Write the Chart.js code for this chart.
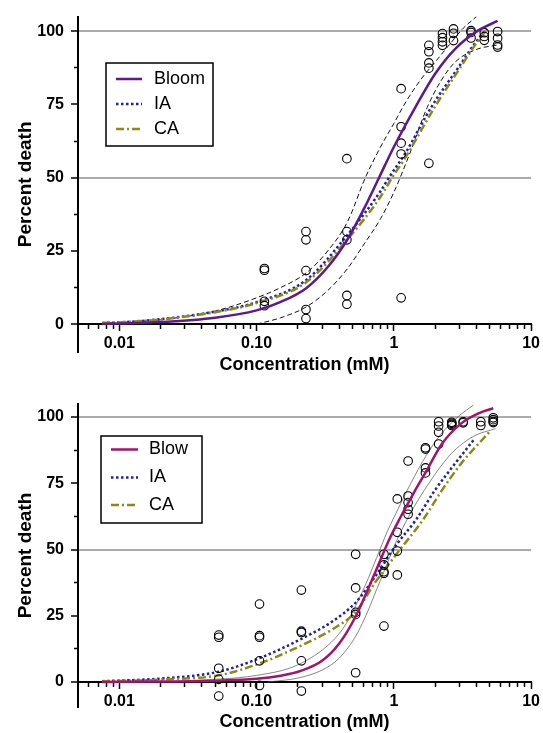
<!DOCTYPE html>
<html>
<head>
<meta charset="utf-8">
<script src="https://cdn.jsdelivr.net/npm/chart.js@4.4.1/dist/chart.umd.min.js"></script>
<style>
	html, body { margin: 0; padding: 0; background: #fff; }
	#wrap { position: relative; width: 543px; height: 733px; overflow: hidden; }
	#top { position: absolute; left: 0; top: 0; }
	#bottom { position: absolute; left: 0; top: 378px; }
</style>
</head>
<body>
<div id="wrap">
	<canvas id="top" width="543" height="378"></canvas>
	<canvas id="bottom" width="543" height="355"></canvas>
</div>
<script>
// ticks
var majorTicks = [0.01, 0.1, 1, 10];
var majorLabels = ["0.01", "0.10", "1", "10"];
var minorTicks = [0.006, 0.007, 0.008, 0.009, 0.02, 0.03, 0.04, 0.05, 0.06, 0.07, 0.08, 0.09,
	0.2, 0.3, 0.4, 0.5, 0.6, 0.7, 0.8, 0.9, 2, 3, 4, 5, 6, 7, 8, 9];
var yTicks = [0, 25, 50, 75, 100];
var yMinorTicks = [12.5, 37.5, 62.5, 87.5];

//////// top : Bloom
var bloomPtX = [0.114, 0.114, 0.114, 0.114, 0.229, 0.229, 0.229, 0.229, 0.229,
	0.455, 0.455, 0.455, 0.455, 0.455, 1.13, 1.13, 1.13, 1.13, 1.13,
	1.8, 1.8, 1.8, 1.8, 1.8, 2.26, 2.26, 2.26, 2.26, 2.72, 2.72, 2.72,
	3.65, 3.65, 3.65, 4.56, 4.56, 4.56, 5.7, 5.7, 5.7, 5.7];
var bloomPtY = [19.0, 18.4, 7.8, 6.3, 31.6, 28.8, 18.3, 5.0, 1.9,
	56.5, 31.6, 28.8, 9.8, 6.8, 80.4, 67.4, 61.8, 58.1, 9.0,
	95.2, 93.0, 89.2, 87.4, 54.9, 99.2, 97.8, 96.4, 95.2, 100.8, 99.3, 96.8,
	100.2, 99.6, 97.7, 99.5, 98.2, 96.9, 99.9, 97.6, 95.3, 94.6];
var bloomFitX = [0.0075, 0.01, 0.02, 0.05, 0.1, 0.15, 0.23, 0.33, 0.46, 0.6, 0.78, 1.0, 1.44, 2.0, 2.8, 4.1, 5.7];
var bloomFitY = [0.1, 0.2, 0.7, 2.2, 4.7, 7.6, 12.3, 19.5, 29, 39, 50, 60.5, 74.2, 85.5, 94, 100.2, 103.5];
var bloomHiX = [0.0075, 0.02, 0.05, 0.1, 0.15, 0.23, 0.33, 0.46, 0.62, 0.8, 1.0, 1.21, 1.6, 2.0, 2.6, 3.2, 4.0];
var bloomHiY = [0.3, 1.5, 4.5, 9.0, 12.5, 17.5, 25, 35, 50, 60.5, 68.5, 75.5, 84, 89.5, 96, 101, 105];
var bloomLoX = [0.1, 0.15, 0.23, 0.33, 0.46, 0.6, 0.8, 1.0, 1.3, 1.75, 2.2, 2.8, 4.0, 5.7];
var bloomLoY = [0, 2.2, 5.9, 11.5, 19, 27, 36, 45, 58, 74, 83, 89.5, 93.8, 95.3];
var bloomIAX = [0.0075, 0.01, 0.02, 0.05, 0.1, 0.23, 0.46, 0.8, 0.92, 1.2, 1.88, 2.97, 3.87, 4.73];
var bloomIAY = [0.4, 0.6, 1.7, 4.3, 7.5, 15.1, 30.5, 45.4, 50, 58, 74.2, 87.8, 95.7, 100.8];
var bloomCAX = [0.0075, 0.01, 0.02, 0.05, 0.1, 0.23, 0.46, 0.8, 0.97, 1.2, 1.99, 2.97, 3.87, 4.73];
var bloomCAY = [0.4, 0.6, 1.6, 4.1, 7.2, 14.3, 29, 43.5, 50, 56.5, 74.2, 86.8, 95, 100.5];

//////// bottom : Blow
var blowPtX = [0.053, 0.053, 0.053, 0.053, 0.053, 0.105, 0.105, 0.105, 0.105, 0.105,
	0.212, 0.212, 0.212, 0.212, 0.212, 0.527, 0.527, 0.527, 0.527, 0.527,
	0.847, 0.847, 0.847, 0.847, 0.847, 1.06, 1.06, 1.06, 1.06,
	1.27, 1.27, 1.27, 1.27, 1.27, 1.7, 1.7, 1.7, 1.7, 2.12, 2.12, 2.12, 2.12,
	2.64, 2.64, 2.64, 2.64, 3.2, 3.2, 4.3, 4.3, 5.3, 5.3, 5.3, 5.3];
var blowPtY = [17.7, 16.9, 5.2, 1.0, -5.3, 29.4, 17.5, 16.9, 8.0, -1.3,
	34.7, 19.2, 18.7, 8.0, -3.4, 48.2, 35.5, 26.3, 25.5, 3.5,
	48.2, 44.2, 41.6, 41.0, 21.1, 69.1, 56.5, 49.4, 40.4,
	83.4, 70.2, 67.7, 65.2, 63.3, 88.4, 87.9, 80.8, 78.9, 98.2, 96.6, 94.2, 89.8,
	98.0, 97.6, 97.2, 96.8, 98.2, 97.8, 98.2, 96.8, 99.7, 99.0, 98.3, 97.9];
var blowFitX = [0.0075, 0.02, 0.05, 0.1, 0.15, 0.21, 0.3, 0.4, 0.53, 0.74, 0.92, 1.1, 1.4, 1.7, 2.25, 3.1, 4.15, 5.3];
var blowFitY = [0.05, 0.2, 0.5, 1.2, 2.4, 4.2, 8, 14.5, 25, 42, 53.5, 61.5, 71.5, 79, 90, 97.6, 101.4, 103.3];
var blowHiX = [0.03, 0.1, 0.2, 0.35, 0.45, 0.53, 0.65, 0.75, 0.9, 1.0, 1.33, 1.7, 2.2, 3.0, 3.8];
var blowHiY = [0.4, 2.5, 6.5, 15, 22, 29, 39, 47, 57, 62, 75, 85, 93.5, 100.5, 104.5];
var blowLoX = [0.12, 0.2, 0.3, 0.4, 0.53, 0.65, 0.75, 0.9, 1.0, 1.3, 1.8, 2.5, 3.0, 3.9, 5.5];
var blowLoY = [0, 1.5, 4.5, 9, 17.5, 27, 35, 45, 51, 63, 75, 85, 89, 93, 95.6];
var blowIAX = [0.0075, 0.02, 0.053, 0.105, 0.216, 0.36, 0.527, 0.736, 1.05, 1.44, 2.0, 2.8, 3.9];
var blowIAY = [0.3, 1.3, 3.9, 9, 16.5, 23, 30, 40, 52, 61, 72.5, 82.5, 92];
var blowCAX = [0.0075, 0.02, 0.054, 0.105, 0.216, 0.36, 0.527, 0.736, 1.11, 1.62, 2.25, 3.1, 5.1];
var blowCAY = [0.2, 0.9, 2.6, 7, 14, 20, 26.5, 37.8, 50, 61, 72.5, 82.5, 95];

Chart.defaults.font.family = '"Liberation Sans", Arial, sans-serif';
Chart.defaults.color = "#000";

function xy(xs, ys) {
	return xs.map(function(x, i) { return {x: x, y: ys[i]}; });
}
function curve(label, xs, ys, color, width, dash, order) {
	return {
		label: label, data: xy(xs, ys), showLine: true, pointRadius: 0,
		borderColor: color, borderWidth: width, borderDash: dash,
		cubicInterpolationMode: "monotone", fill: false, order: order
	};
}
function dots(xs, ys) {
	return {
		label: "data", data: xy(xs, ys), showLine: false, pointRadius: 4.3,
		pointStyle: "circle", borderColor: "#000", borderWidth: 1.1,
		backgroundColor: "rgba(0,0,0,0)", order: 1
	};
}

// legend box inside the plot
var boxLegend = {
	id: "boxLegend",
	afterDatasetsDraw: function(chart, args, o) {
		var ctx = chart.ctx;
		ctx.save();
		ctx.fillStyle = "#fff";
		ctx.fillRect(o.x, o.y, o.w, o.h);
		ctx.strokeStyle = "#000";
		ctx.lineWidth = 1.5;
		ctx.strokeRect(o.x, o.y, o.w, o.h);
		o.items.forEach(function(idx, i) {
			var ds = chart.data.datasets[idx];
			var y = o.rows[i];
			ctx.strokeStyle = ds.borderColor;
			ctx.lineWidth = ds.borderWidth;
			ctx.setLineDash(ds.borderDash || []);
			ctx.beginPath();
			ctx.moveTo(o.lx0, y);
			ctx.lineTo(o.lx1, y);
			ctx.stroke();
			ctx.setLineDash([]);
			ctx.fillStyle = "#000";
			ctx.font = '18px "Liberation Sans", Arial, sans-serif';
			ctx.textBaseline = "middle";
			ctx.fillText(ds.label, o.tx, y);
		});
		ctx.restore();
	}
};

function panel(id, sets, legend, pad, titlePad) {
	var logRange = {type: "logarithmic", min: 0.005, max: 10, bounds: "data"};
	var yRange = {type: "linear", min: -9.5, max: 105, bounds: "data"};
	return new Chart(document.getElementById(id), {
		type: "scatter",
		data: {datasets: sets},
		options: {
			responsive: false,
			animation: false,
			layout: {padding: pad},
			plugins: {legend: {display: false}, tooltip: {enabled: false}, boxLegend: legend},
			scales: {
				x: Object.assign({}, logRange, {
					axis: "x", position: {y: 0},
					border: {color: "#000", width: 2},
					grid: {drawOnChartArea: false, tickLength: 4, tickColor: "#000", tickWidth: 1.5},
					ticks: {display: false},
					afterBuildTicks: function(s) { s.ticks = minorTicks.map(function(v) { return {value: v}; }); },
					afterFit: function(s) { s.height = 0; }
				}),
				y: Object.assign({}, yRange, {
					axis: "y", position: "left",
					border: {color: "#000", width: 2},
					grid: {
						color: function(c) { return (c.tick && (c.tick.value === 50 || c.tick.value === 100)) ? "#ababab" : "rgba(0,0,0,0)"; },
						lineWidth: 2, tickColor: "#000", tickWidth: 1.5, tickLength: 7
					},
					ticks: {color: "#000", font: {size: 16, weight: "bold"}, padding: 7},
					afterBuildTicks: function(s) { s.ticks = yTicks.map(function(v) { return {value: v}; }); },
					afterFit: function(s) { s.width = 78; },
					title: {display: true, text: "Percent death", color: "#000", font: {size: 19, weight: "bold"}, padding: {top: 14, bottom: 0}}
				}),
				xMajor: Object.assign({}, logRange, {
					axis: "x", position: {y: 0},
					border: {display: false},
					grid: {drawOnChartArea: false, tickLength: 7, tickColor: "#000", tickWidth: 1.5},
					ticks: {
						color: "#000", font: {size: 16, weight: "bold"}, padding: 3, maxRotation: 0, autoSkip: false,
						callback: function(v, i) { return majorLabels[i]; }
					},
					afterBuildTicks: function(s) { s.ticks = majorTicks.map(function(v) { return {value: v}; }); },
					afterFit: function(s) { s.height = 0; }
				}),
				yMinor: Object.assign({}, yRange, {
					axis: "y", position: {x: 0.005},
					border: {display: false},
					grid: {drawOnChartArea: false, tickLength: 4, tickColor: "#000", tickWidth: 1.5},
					ticks: {display: false},
					afterBuildTicks: function(s) { s.ticks = yMinorTicks.map(function(v) { return {value: v}; }); },
					afterFit: function(s) { s.width = 0; }
				}),
				xTitle: Object.assign({}, logRange, {
					axis: "x", position: "bottom",
					border: {display: false},
					grid: {display: false, drawTicks: false},
					ticks: {display: false},
					title: {display: true, text: "Concentration (mM)", color: "#000", font: {size: 18, weight: "bold"}, padding: titlePad}
				})
			}
		},
		plugins: [boxLegend]
	});
}

// top
panel("top", [
	curve("Bloom", bloomFitX, bloomFitY, "#5c1a8e", 2.5, [], 0),
	curve("IA", bloomIAX, bloomIAY, "#1f22a8", 2.5, [2.5, 2.5], 3),
	curve("CA", bloomCAX, bloomCAY, "#8c8a14", 2.5, [8, 3, 2, 3], 2),
	curve("upper", bloomHiX, bloomHiY, "#111", 1, [5, 3], 4),
	curve("lower", bloomLoX, bloomLoY, "#111", 1, [5, 3], 4),
	dots(bloomPtX, bloomPtY)
], {x: 106, y: 63, w: 107, h: 83, rows: [79, 104, 129], items: [0, 1, 2], lx0: 116, lx1: 142, tx: 154},
{top: 14.25, right: 10, bottom: 0.4, left: 0}, {top: 2, bottom: 2});

// bottom
panel("bottom", [
	curve("Blow", blowFitX, blowFitY, "#a3136b", 2.5, [], 0),
	curve("IA", blowIAX, blowIAY, "#1f22a8", 2.5, [2.5, 2.5], 3),
	curve("CA", blowCAX, blowCAY, "#8c8a14", 2.5, [8, 3, 2, 3], 2),
	curve("upper", blowHiX, blowHiY, "#555", 0.7, [], 4),
	curve("lower", blowLoX, blowLoY, "#555", 0.7, [], 4),
	dots(blowPtX, blowPtY)
], {x: 101, y: 58, w: 101, h: 87, rows: [71.5, 99.5, 127], items: [0, 1, 2], lx0: 111, lx1: 138, tx: 149},
{top: 25.75, right: 10, bottom: 0.2, left: 0}, {top: 4, bottom: 0});
</script>
</body>
</html>
